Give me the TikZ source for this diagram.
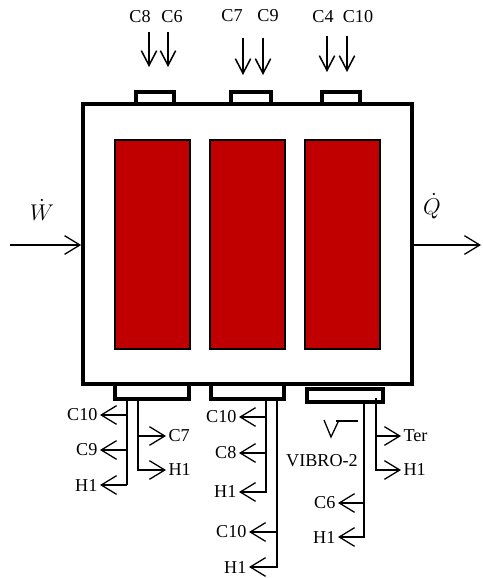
\documentclass[tikz,border=0pt]{standalone}
\usepackage{fontspec}
\setmainfont{Liberation Serif}
\usepackage{graphicx}
\usepackage{xcolor}
\usetikzlibrary{arrows.meta}
\definecolor{cellred}{RGB}{192,0,0}

\begin{document}
\begin{tikzpicture}[x=0.3mm,y=-0.3mm,>={Straight Barb[length=4.6mm,width=5.6mm]},
    tag/.style={inner sep=2pt,font=\fontsize{15.5}{18}\selectfont},
    wall/.style={draw,line width=3.2pt,minimum width=98.7mm,minimum height=84mm},
    cell/.style={draw,line width=2.2pt,fill=cellred,minimum width=22.5mm,minimum height=62.7mm},
    port/.style={draw,fill=white,line width=2.6pt},
    feed/.style={->,line width=1.1pt},
    charge/.style={-{Straight Barb[length=4.4mm,width=4.6mm]},line width=1.3pt},
    pipe/.style={line width=1.1pt}]
    \useasboundingbox (0,0) rectangle (482,578);

    \draw[port] (136,92) rectangle (174,104);
    \draw[port] (231,92) rectangle (271,104);
    \draw[port] (322,92) rectangle (360,104);
    \node[wall] (unit) at (247.5,244) {};
    \node[cell] (cellA) at (152.5,244.5) {};
    \node[cell] (cellB) at (247.5,244.5) {};
    \node[cell] (cellC) at (342.5,244.5) {};
    \draw[port] (115,384) rectangle (189,399);
    \draw[port] (211,384) rectangle (284,399);
    \draw[port] (307,389) rectangle (383,402);

    \node[tag] (inC8) at (140,17) {C8};
    \node[tag] (inC6) at (172,17) {C6};
    \node[tag] (inC7) at (232,16) {C7};
    \node[tag] (inC9) at (268,16) {C9};
    \node[tag] (inC4) at (323,17) {C4};
    \node[tag] (inC10) at (358,17) {C10};
    \draw[charge] (149,32) -- (149,67);
    \draw[charge] (168,32) -- (168,67);
    \draw[charge] (243,38) -- (243,75);
    \draw[charge] (263,38) -- (263,75);
    \draw[charge] (327,36) -- (327,72);
    \draw[charge] (347,36) -- (347,72);

    \coordinate (win) at (10,245);
    \coordinate (qout) at (481,245);
    \node[tag] (work) at (42,210) {\scalebox{1.35}{$\dot{W}$}};
    \node[tag] (heat) at (432,206) {\scalebox{1.35}{$\dot{Q}$}};
    \draw[feed] (win) -- (unit.west |- win);
    \draw[feed] (unit.east |- qout) -- (qout);

    \coordinate (p1a) at (127,399);
    \coordinate (p1b) at (138,399);
    \coordinate (p2a) at (266,399);
    \coordinate (p2b) at (277,399);
    \coordinate (p3a) at (364,402);
    \coordinate (p3b) at (376,398);

    \node[tag,anchor=east] (o1C10) at (100,415) {C10};
    \node[tag,anchor=east] (o1C9) at (100,450) {C9};
    \node[tag,anchor=east] (o1H1) at (100,485) {H1};
    \node[tag,anchor=west] (o1C7) at (166,436) {C7};
    \node[tag,anchor=west] (o1H1r) at (166,470) {H1};
    \draw[pipe] (p1a) -- (p1a |- o1H1);
    \draw[feed] (p1a |- o1C10) -- (o1C10);
    \draw[feed] (p1a |- o1C9) -- (o1C9);
    \draw[feed] (p1a |- o1H1) -- (o1H1);
    \draw[feed] (p1b) |- (o1H1r);
    \draw[feed] (p1b |- o1C7) -- (o1C7);

    \node[tag,anchor=east] (o2C10) at (239,417) {C10};
    \node[tag,anchor=east] (o2C8) at (239,453) {C8};
    \node[tag,anchor=east] (o2H1) at (239,492) {H1};
    \node[tag,anchor=east] (o2C10b) at (249,532) {C10};
    \node[tag,anchor=east] (o2H1b) at (249,567) {H1};
    \draw[feed] (p2a) |- (o2H1);
    \draw[feed] (p2a |- o2C10) -- (o2C10);
    \draw[feed] (p2a |- o2C8) -- (o2C8);
    \draw[feed] (p2b) |- (o2H1b);
    \draw[feed] (p2b |- o2C10b) -- (o2C10b);

    \node[tag,anchor=west] (o3Ter) at (401,436) {Ter};
    \node[tag,anchor=west] (o3H1r) at (401,470) {H1};
    \node[tag,anchor=east] (o3C6) at (338,503) {C6};
    \node[tag,anchor=east] (o3H1) at (338,537) {H1};
    \node[tag] (vibro) at (322,461) {VIBRO-2};
    \draw[feed] (p3b) |- (o3H1r);
    \draw[feed] (p3b |- o3Ter) -- (o3Ter);
    \draw[feed] (p3a) |- (o3H1);
    \draw[feed] (p3a |- o3C6) -- (o3C6);
    \draw[pipe] (324,420) -- (331,437) -- (339,420);
    \draw[pipe] (336,421) -- (358,421);
\end{tikzpicture}
\end{document}
